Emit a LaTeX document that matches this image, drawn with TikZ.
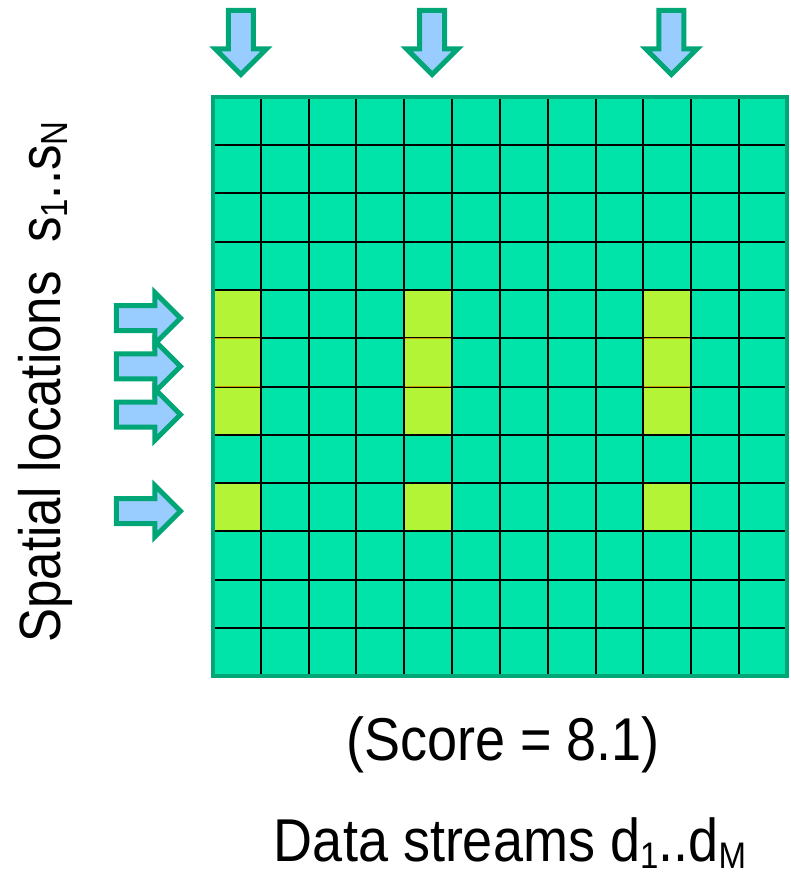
\documentclass[tikz,border=0pt]{standalone}
\usepackage{fontspec}
\setmainfont{Liberation Sans}
\usetikzlibrary{positioning, shapes.arrows}
\definecolor{cellgreen}{HTML}{00E3A9}
\definecolor{hotcell}{HTML}{B3F536}
\definecolor{hotline}{HTML}{C8A000}
\definecolor{edgegreen}{HTML}{00A676}
\definecolor{arrowblue}{HTML}{99CCFF}
\newcommand\sub[1]{\raisebox{-0.13em}{\fontsize{33}{35}\selectfont #1}}

\begin{document}
\begin{tikzpicture}[x=1pt, y=-1pt, font=\fontsize{54}{60}\selectfont,
  pointer/.style={single arrow, fill=arrowblue, draw=edgegreen, line width=5pt,
    minimum height=64pt, minimum width=46pt, single arrow head extend=13pt, inner sep=10pt},
  label/.style={anchor=base, yscale=1.12}]
  \useasboundingbox (0,0) rectangle (790,874);
  \def\cw{47.83} \def\ch{48.25}
  \fill[cellgreen] (213,97) rectangle (787,676);
  \foreach \c in {0,4,9}{
    \fill[hotcell] (213+\c*\cw,97+4*\ch) rectangle ++(\cw,3*\ch);
    \fill[hotcell] (213+\c*\cw,97+8*\ch) rectangle ++(\cw,\ch);
  }
  \foreach \i in {1,...,11}{
    \draw[line width=2pt] (213+\i*\cw,97) -- (213+\i*\cw,676);
    \draw[line width=2pt] (213,97+\i*\ch) -- (787,97+\i*\ch);
  }
  \foreach \c in {0,4,9}
    \foreach \r in {5,6}
      \draw[hotline, line width=1.2pt] (213+\c*\cw+1,97+\r*\ch) -- ++(\cw-2,0);
  \draw[edgegreen, line width=4pt] (213,97) rectangle (787,676);

  \foreach \c [count=\k] in {0,4,9}
    \node[pointer, shape border rotate=270, anchor=tip] (top\k) at (213+\c*\cw+\cw/2+4,78) {};
  \foreach \r [count=\k] in {4,5,6,8}
    \node[pointer, anchor=tip] (left\k) at (184,97+\r*\ch+\ch/2+4) {};

  \node[label] (score) at (503,760) {(Score = 8.1)};
  \node[label] (streams) at (510,861) {Data streams d\sub{1}..d\sub{M}};
  \node[rotate=90, label, yscale=1.02, font=\fontsize{51}{56}\selectfont] (spatial) at (60,382)
    {Spatial locations\ \ s\sub{1}..s\sub{N}};
\end{tikzpicture}
\end{document}
